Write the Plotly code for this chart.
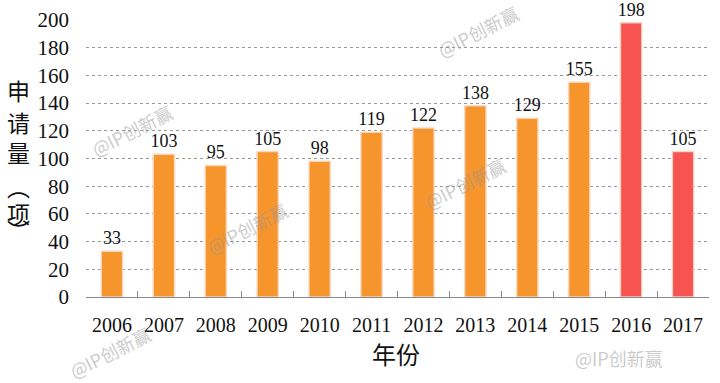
import plotly.graph_objects as go

years = ["2006", "2007", "2008", "2009", "2010", "2011", "2012", "2013", "2014", "2015", "2016", "2017"]
counts = [33, 103, 95, 105, 98, 119, 122, 138, 129, 155, 198, 105]
orange = "#F7952D"
red = "#F75350"
bar_colors = [orange] * 10 + [red] * 2
y_ticks = [0, 20, 40, 60, 80, 100, 120, 140, 160, 180, 200]
y_title_chars = ["申", "请", "量", "︵", "项", "︶"]
x_title = "年份"
watermark = "@IP创新赢"

serif = "Liberation Serif, Times New Roman, serif"
cjk = "Noto Sans CJK SC, sans-serif"

W, H = 720, 383
L, T = 86, 20
R = 720 - 709
B = 383 - 297
PW, PH = W - L - R, H - T - B


def px_to_paper(px, py):
    return (px - L) / PW, (H - B - py) / PH


fig = go.Figure()
fig.add_trace(go.Bar(
    x=years, y=counts,
    marker=dict(color=bar_colors, line=dict(color="rgba(250,215,195,0.9)", width=1.5)),
    text=[str(v) for v in counts], textposition="outside", constraintext="none",
    textfont=dict(family=serif, size=18, color="#111"),
    cliponaxis=False,
))

fig.update_layout(
    width=W, height=H,
    margin=dict(l=L, r=R, t=T, b=B, autoexpand=False),
    paper_bgcolor="white", plot_bgcolor="white",
    bargap=0.59, showlegend=False,
    font=dict(family=serif, size=20, color="#111"),
)
fig.update_yaxes(
    range=[0, 200], tickvals=y_ticks, showgrid=True, gridcolor="#999999",
    griddash="dot", gridwidth=1, zeroline=False, showline=False,
    ticklabelstandoff=16, tickfont=dict(family=serif, size=21, color="#111"),
)
fig.update_xaxes(
    type="category", showline=True, linecolor="#888", linewidth=1.2,
    ticks="inside", tickson="boundaries", ticklen=6, tickcolor="#888",
    ticklabelstandoff=10, tickfont=dict(family=serif, size=20, color="#111"),
)

# y axis title, stacked characters
for ch, py in zip(y_title_chars, [90, 122, 152, 186, 213, 230]):
    x, y = px_to_paper(18, py)
    fig.add_annotation(text=ch, xref="paper", yref="paper", x=x, y=y,
                       xanchor="center", yanchor="middle", showarrow=False,
                       font=dict(family=cjk, size=23, color="#111"))
x, y = px_to_paper(396, 353)
fig.add_annotation(text=x_title, xref="paper", yref="paper", x=x, y=y,
                   xanchor="center", yanchor="middle", showarrow=False,
                   font=dict(family=cjk, size=24, color="#111"))

# watermarks
wm = dict(text=watermark, showarrow=False, xref="paper", yref="paper",
          xanchor="center", yanchor="middle",
          font=dict(family=cjk, size=18, color="rgba(150,150,150,0.5)"))
for (px, py, ang) in [(478, 31, -27), (132, 130, -27), (465, 183, -27), (247, 228, -27), (110, 352, -27)]:
    x, y = px_to_paper(px, py)
    fig.add_annotation(x=x, y=y, textangle=ang, **wm)
x, y = px_to_paper(619, 358)
fig.add_annotation(x=x, y=y, textangle=0, **wm)

fig.write_html("out.html", config={"displayModeBar": False},
               post_script="document.body.style.margin='0';document.body.style.overflow='hidden';")
